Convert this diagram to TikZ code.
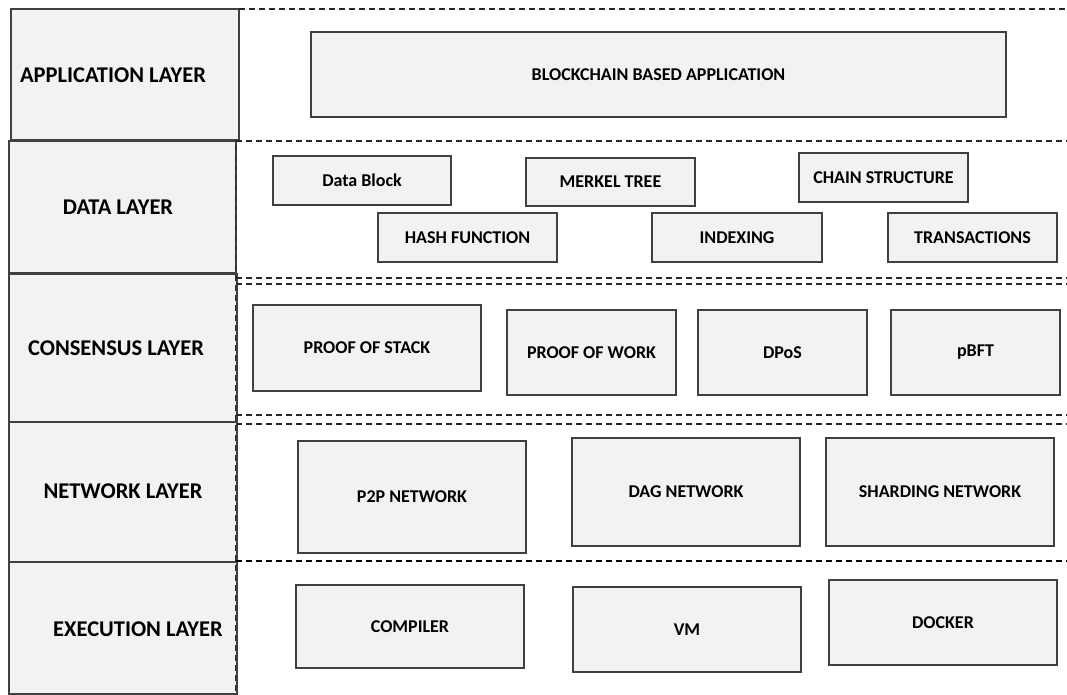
\documentclass[tikz,border=0pt]{standalone}
\usepackage{fontspec}
\setmainfont{Carlito}
\begin{document}
\begin{tikzpicture}[x=1pt,y=-1pt,
  box/.style={draw=black!75, line width=1.4pt, fill=black!5, inner sep=0pt, font=\bfseries\fontsize{18}{21}\selectfont},
  layerbox/.style={draw=black!75, line width=1.4pt, fill=black!5, inner sep=0pt},
  layertext/.style={font=\bfseries\fontsize{22.5}{26}\selectfont, inner sep=0pt},
  sep/.style={draw=black!85, line width=1.1pt, dash pattern=on 6pt off 4pt}]
\useasboundingbox (0,0) rectangle (1067,695);
% layer boxes (left column)
\node[layerbox, minimum width=228, minimum height=131] (app) at (125,74.5) {};
\node[layerbox, minimum width=227, minimum height=132] (data) at (122.5,207) {};
\node[layerbox, minimum width=228, minimum height=148] (cons) at (123,348) {};
\node[layerbox, minimum width=228, minimum height=140] (net) at (123,492) {};
\node[layerbox, minimum width=228, minimum height=132] (exec) at (123,628) {};
\node[layertext] (appL) at (113,75) {APPLICATION LAYER};
\node[layertext] (dataL) at (118,207) {DATA LAYER};
\node[layertext] (consL) at (116,348) {CONSENSUS LAYER};
\node[layertext] (netL) at (123,491) {NETWORK LAYER};
\node[layertext] (execL) at (138,629) {EXECUTION LAYER};
% separators
\coordinate (e0) at (1067,9);
\coordinate (e1) at (1067,141);
\coordinate (e2a) at (1067,278);
\coordinate (e2b) at (1067,284);
\coordinate (e3a) at (1067,415);
\coordinate (e3b) at (1067,424);
\coordinate (e4) at (1067,561);
\coordinate (s0) at (239,9);
\coordinate (s1) at (236,141);
\coordinate (s2a) at (236,278);
\coordinate (s2b) at (236,284);
\coordinate (s3a) at (236,415);
\coordinate (s3b) at (236,424);
\coordinate (s4) at (236,561);
\coordinate (v0) at (235,145);
\coordinate (v1) at (235,695);
\draw[sep] (s0) -- (e0);
\draw[sep] (s1) -- (e1);
\draw[sep] (s2a) -- (e2a);
\draw[sep] (s2b) -- (e2b);
\draw[sep] (s3a) -- (e3a);
\draw[sep] (s3b) -- (e3b);
\draw[sep, draw=black, line width=1.6pt] (s4) -- (e4);
\draw[sep, draw=black!85, line width=1pt] (v0) -- (v1);
% application layer
\node[box, minimum width=695, minimum height=85] (bba) at (658.5,74.5) {BLOCKCHAIN BASED APPLICATION};
% data layer
\node[box, minimum width=178, minimum height=49] (db) at (362,180.5) {Data Block};
\node[box, minimum width=169, minimum height=48] (mt) at (610.5,182) {MERKEL TREE};
\node[box, minimum width=169, minimum height=49] (cs) at (883.5,177.5) {CHAIN STRUCTURE};
\node[box, minimum width=179, minimum height=49] (hf) at (467.5,237.5) {HASH FUNCTION};
\node[box, minimum width=170, minimum height=49] (ix) at (737,237.5) {INDEXING};
\node[box, minimum width=169, minimum height=49] (tx) at (972.5,237.5) {TRANSACTIONS};
% consensus layer
\node[box, minimum width=228, minimum height=86] (pos) at (367,348) {PROOF OF STACK};
\node[box, minimum width=169, minimum height=85] (pow) at (591.5,352.5) {PROOF OF WORK};
\node[box, minimum width=169, minimum height=85] (dpos) at (782.5,352.5) {DPoS};
\node[box, minimum width=169, minimum height=85] (pbft) at (975.5,352.5) {pBFT};
% network layer
\node[box, minimum width=228, minimum height=112] (p2p) at (412,497) {P2P NETWORK};
\node[box, minimum width=228, minimum height=108] (dag) at (686,492) {DAG NETWORK};
\node[box, minimum width=228, minimum height=108] (shard) at (940,492) {SHARDING NETWORK};
% execution layer
\node[box, minimum width=228, minimum height=83] (comp) at (410,626.5) {COMPILER};
\node[box, minimum width=228, minimum height=85] (vm) at (687,629.5) {VM};
\node[box, minimum width=228, minimum height=85] (dock) at (943,622.5) {DOCKER};
\end{tikzpicture}
\end{document}
